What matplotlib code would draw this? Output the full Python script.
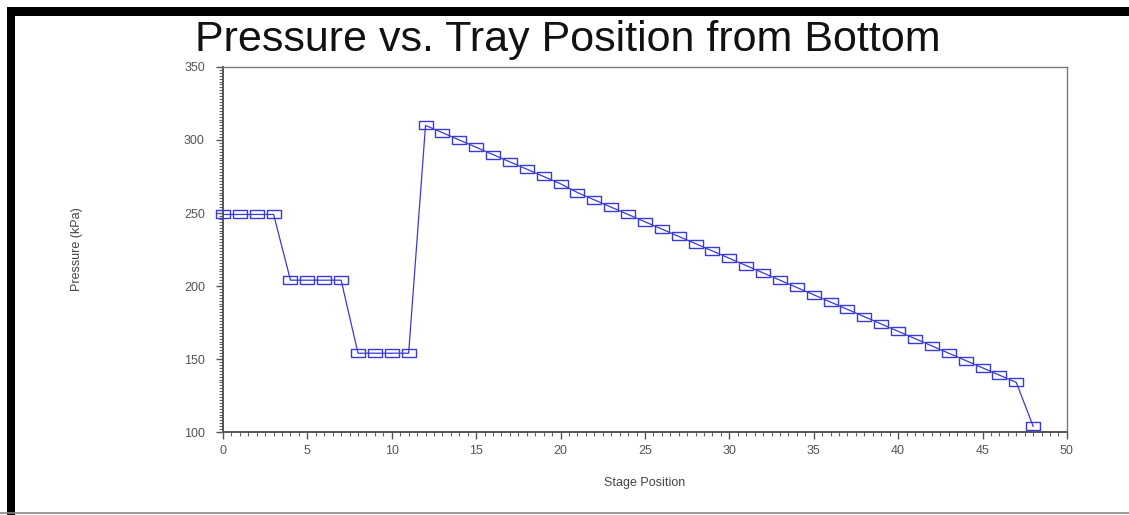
import matplotlib
matplotlib.use('Agg')
import matplotlib.pyplot as plt
from matplotlib.lines import Line2D
from matplotlib.patches import Rectangle
from matplotlib.ticker import MultipleLocator

# Stage position (tray from bottom) and pressure.
stages = list(range(49))
pressure_kpa = [249, 249, 249, 249,
                204, 204, 204, 204,
                154, 154, 154, 154,
                310, 305, 300, 295, 290, 285, 280, 275, 270, 264,
                259, 254, 249, 244, 239, 234, 229, 224, 219, 214,
                209, 204, 199, 194, 189, 184, 179, 174, 169, 164,
                159, 154, 149, 144, 139, 134,
                104]

title = 'Pressure vs. Tray Position from Bottom'
x_label = 'Stage Position'
y_label = 'Pressure (kPa)'

plt.rcParams['font.family'] = ['Liberation Sans', 'DejaVu Sans']

fig = plt.figure(figsize=(11.29, 5.15), dpi=100)
ax = fig.add_axes([0.1975, 0.161, 0.7475, 0.709])

# wide, short open box marker
box = [(-0.8, -0.5), (0.8, -0.5), (0.8, 0.5), (-0.8, 0.5), (-0.8, -0.5)]
ax.plot(stages, pressure_kpa, color='#3a3ad6', lw=0.9,
        marker=box, markersize=9.5, markerfacecolor='none',
        markeredgecolor='#3a3ad6', markeredgewidth=1.0,
        clip_on=False, zorder=3)

ax.set_xlim(0, 50)
ax.set_ylim(100, 350)
ax.xaxis.set_major_locator(MultipleLocator(5))
ax.xaxis.set_minor_locator(MultipleLocator(0.5))
ax.yaxis.set_major_locator(MultipleLocator(50))
ax.yaxis.set_minor_locator(MultipleLocator(2))

for s in ax.spines.values():
    s.set_color('#7a7a7a')
    s.set_linewidth(1.0)
ax.spines['left'].set_color('#555555')
ax.spines['bottom'].set_color('#555555')
ax.spines['left'].set_linewidth(1.4)
ax.spines['bottom'].set_linewidth(1.4)

ax.tick_params(which='major', direction='out', length=5, width=1.0,
               color='#555555', labelsize=9, labelcolor='#555555')
ax.tick_params(axis='y', which='major', pad=8)
ax.tick_params(axis='x', which='major', pad=4)
ax.tick_params(which='minor', direction='out', length=3, width=0.8,
               color='#666666')
ax.tick_params(top=False, right=False, which='both')

ax.set_xlabel(x_label, fontsize=9, color='#444444', labelpad=15)
ax.set_ylabel(y_label, fontsize=9, color='#444444', labelpad=73)

fig.text(0.503, 0.901, title, ha='center', va='baseline',
         fontsize=31, color='#111111')

# black frame on the left and top, thin grey rule at the bottom
fig.add_artist(Rectangle((0.0062, 0.0), 0.0071, 0.986,
                         transform=fig.transFigure, color='black', lw=0))
fig.add_artist(Rectangle((0.0062, 0.969), 0.994, 0.017,
                         transform=fig.transFigure, color='black', lw=0))
fig.add_artist(Line2D([0.0, 1.0], [0.004, 0.004],
                      transform=fig.transFigure, color='#888888', lw=1.2))

fig.savefig('out.png', dpi=100)
